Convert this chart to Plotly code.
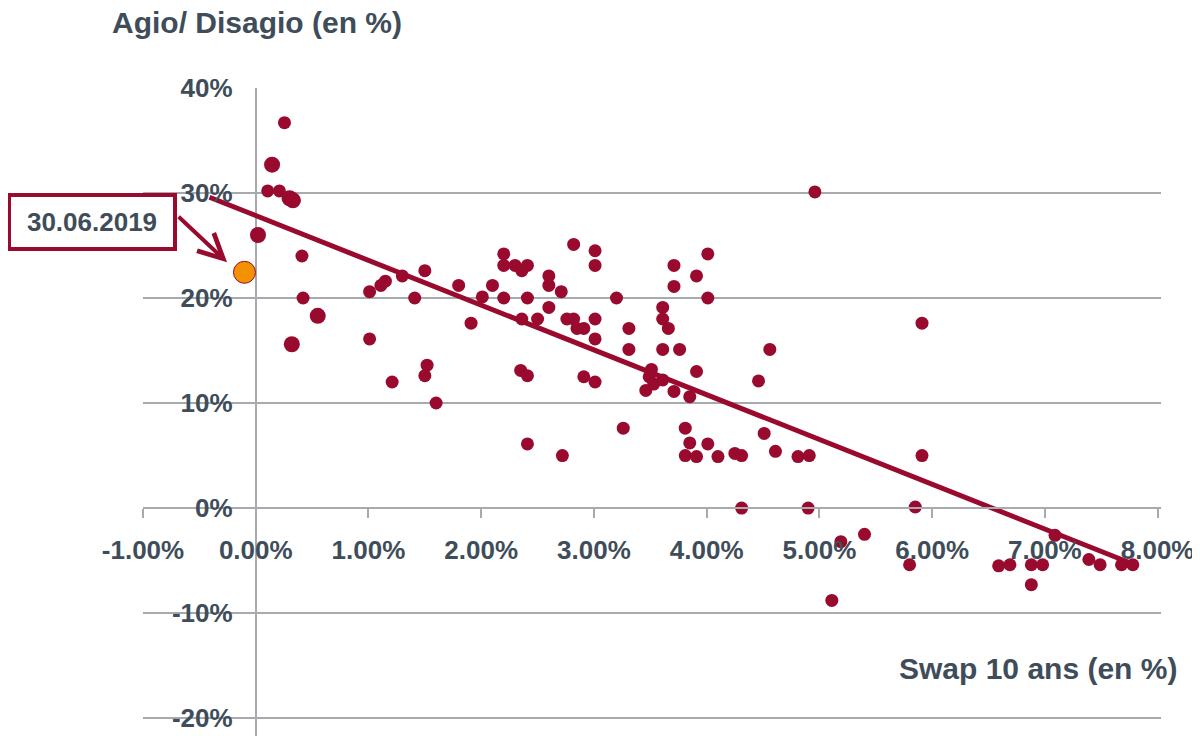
import plotly.graph_objects as go

# Swap 10 ans (en %) vs Agio/Disagio (en %)
swap = [0.255, 0.106, 0.21, 0.41, 0.42,
        1.01, 1.11, 1.15, 1.30, 1.50, 1.41, 1.01, 1.21, 1.52, 1.50, 1.60,
        1.80, 1.91, 2.01, 2.10, 2.20, 2.20, 2.20, 2.30, 2.36, 2.41, 2.41, 2.36, 2.50, 2.35, 2.41, 2.41,
        2.60, 2.60, 2.71, 2.60, 2.82, 2.76, 2.82, 2.85, 2.91, 3.01, 3.01, 3.01, 3.01, 2.91, 3.01, 2.72,
        3.20, 3.31, 3.31, 3.26,
        3.51, 3.49, 3.46, 3.53, 3.61,
        3.61, 3.61, 3.66, 3.61, 3.76, 3.71, 3.71, 3.91, 4.01, 4.01,
        3.71, 3.85, 3.91, 3.81, 3.85, 4.01, 3.81, 3.91, 4.10, 4.25, 4.31,
        4.56, 4.46, 4.51, 4.61, 4.81, 4.91, 5.91, 5.91, 4.96,
        4.31, 4.90, 5.85, 5.19, 5.40, 5.11, 5.80,
        6.59, 6.69, 6.88, 6.98, 6.88, 7.09, 7.39, 7.49, 7.68, 7.78]
agio = [36.7, 30.2, 30.2, 24.0, 20.0,
        20.6, 21.2, 21.6, 22.1, 22.6, 20.0, 16.1, 12.0, 13.6, 12.6, 10.0,
        21.2, 17.6, 20.1, 21.2, 24.2, 23.1, 20.0, 23.1, 22.6, 23.1, 20.0, 18.0, 18.0, 13.1, 12.6, 6.1,
        22.1, 21.2, 20.6, 19.1, 25.1, 18.0, 18.0, 17.1, 17.1, 24.5, 23.1, 18.0, 16.1, 12.5, 12.0, 5.0,
        20.0, 17.1, 15.1, 7.6,
        13.2, 12.5, 11.2, 11.8, 12.2,
        19.1, 18.0, 17.1, 15.1, 15.1, 23.1, 21.1, 22.1, 24.2, 20.0,
        11.1, 10.6, 13.0, 7.6, 6.2, 6.1, 5.0, 4.9, 4.9, 5.2, 5.0,
        15.1, 12.1, 7.1, 5.4, 4.9, 5.0, 17.6, 5.0, 30.1,
        0.0, 0.0, 0.1, -3.2, -2.5, -8.8, -5.4,
        -5.5, -5.4, -5.4, -5.4, -7.3, -2.6, -4.9, -5.4, -5.4, -5.4]

# larger dots (left cluster)
swap_large = [0.145, 0.30, 0.33, 0.02, 0.55, 0.32]
agio_large = [32.7, 29.5, 29.3, 26.0, 18.3, 15.6]

# 30.06.2019
swap_current = [-0.10]
agio_current = [22.45]

# linear trend
trend_swap = [-0.41, 7.82]
trend_agio = [29.6, -5.5]

x_ticks = [-1, 0, 1, 2, 3, 4, 5, 6, 7, 8]
x_tick_labels = ["-1.00%", "0.00%", "1.00%", "2.00%", "3.00%", "4.00%",
                 "5.00%", "6.00%", "7.00%", "8.00%"]
y_ticks = [-20, -10, 0, 10, 20, 30, 40]
y_tick_labels = ["-20%", "-10%", "0%", "10%", "20%", "30%", "40%"]

red = "#990a2e"
grey = "#a7abaf"
txt = "#3e4d59"
font = "Liberation Sans, Arial, sans-serif"

y_min, y_max = -21.71, 40

fig = go.Figure()
fig.add_trace(go.Scatter(x=swap, y=agio, mode="markers",
                         marker=dict(color=red, size=13)))
fig.add_trace(go.Scatter(x=swap_large, y=agio_large, mode="markers",
                         marker=dict(color=red, size=16)))
fig.add_trace(go.Scatter(x=trend_swap, y=trend_agio, mode="lines",
                         line=dict(color=red, width=5)))
fig.add_trace(go.Scatter(x=swap_current, y=agio_current, mode="markers",
                         marker=dict(color="#f39200", size=22,
                                     line=dict(color=red, width=1))))

# page body adds an 8px offset, so margins are shifted by 8px
fig.update_layout(
    width=1200, height=736,
    margin=dict(l=135, r=47, t=80, b=8, autoexpand=False),
    paper_bgcolor="white", plot_bgcolor="white",
    showlegend=False,
    font=dict(family=font, color=txt, size=26, weight="bold"),
    xaxis=dict(range=[-1, 8.03], tickvals=x_ticks, ticktext=x_tick_labels,
               showgrid=False, zeroline=True, zerolinecolor=grey, zerolinewidth=2,
               showline=True, linecolor=grey, linewidth=2,
               ticks="outside", ticklen=9, tickwidth=2, tickcolor=grey,
               anchor="free", position=(0 - y_min) / (y_max - y_min),
               ticklabelstandoff=10, automargin=False),
    yaxis=dict(range=[y_min, y_max], tickvals=y_ticks, ticktext=y_tick_labels,
               showgrid=True, gridcolor=grey, gridwidth=2, zeroline=False,
               showline=False, ticks="",
               anchor="free", position=0.088, automargin=False),
)

fig.add_annotation(text="Agio/ Disagio (en %)", xref="paper", yref="paper",
                   x=-0.0324, y=1.101, xanchor="left", yanchor="middle",
                   showarrow=False, font=dict(size=30, color=txt))
fig.add_annotation(text="Swap 10 ans (en %)", xref="paper", yref="paper",
                   x=1.0177, y=0.1034, xanchor="right", yanchor="middle",
                   showarrow=False, font=dict(size=30, color=txt))
fig.add_annotation(text="30.06.2019", xref="paper", yref="paper",
                   x=-0.0501, y=0.793, xanchor="center", yanchor="middle",
                   width=156, height=44, borderpad=3, borderwidth=4,
                   bordercolor=red, bgcolor="white",
                   showarrow=False, font=dict(size=26, color=txt))
fig.add_annotation(text="", x=-0.254, y=23.4, xref="x", yref="y",
                   ax=-50, ay=-47, showarrow=True, arrowhead=5,
                   arrowsize=1.2, arrowwidth=4, arrowcolor=red)

fig.write_html("out.html")
